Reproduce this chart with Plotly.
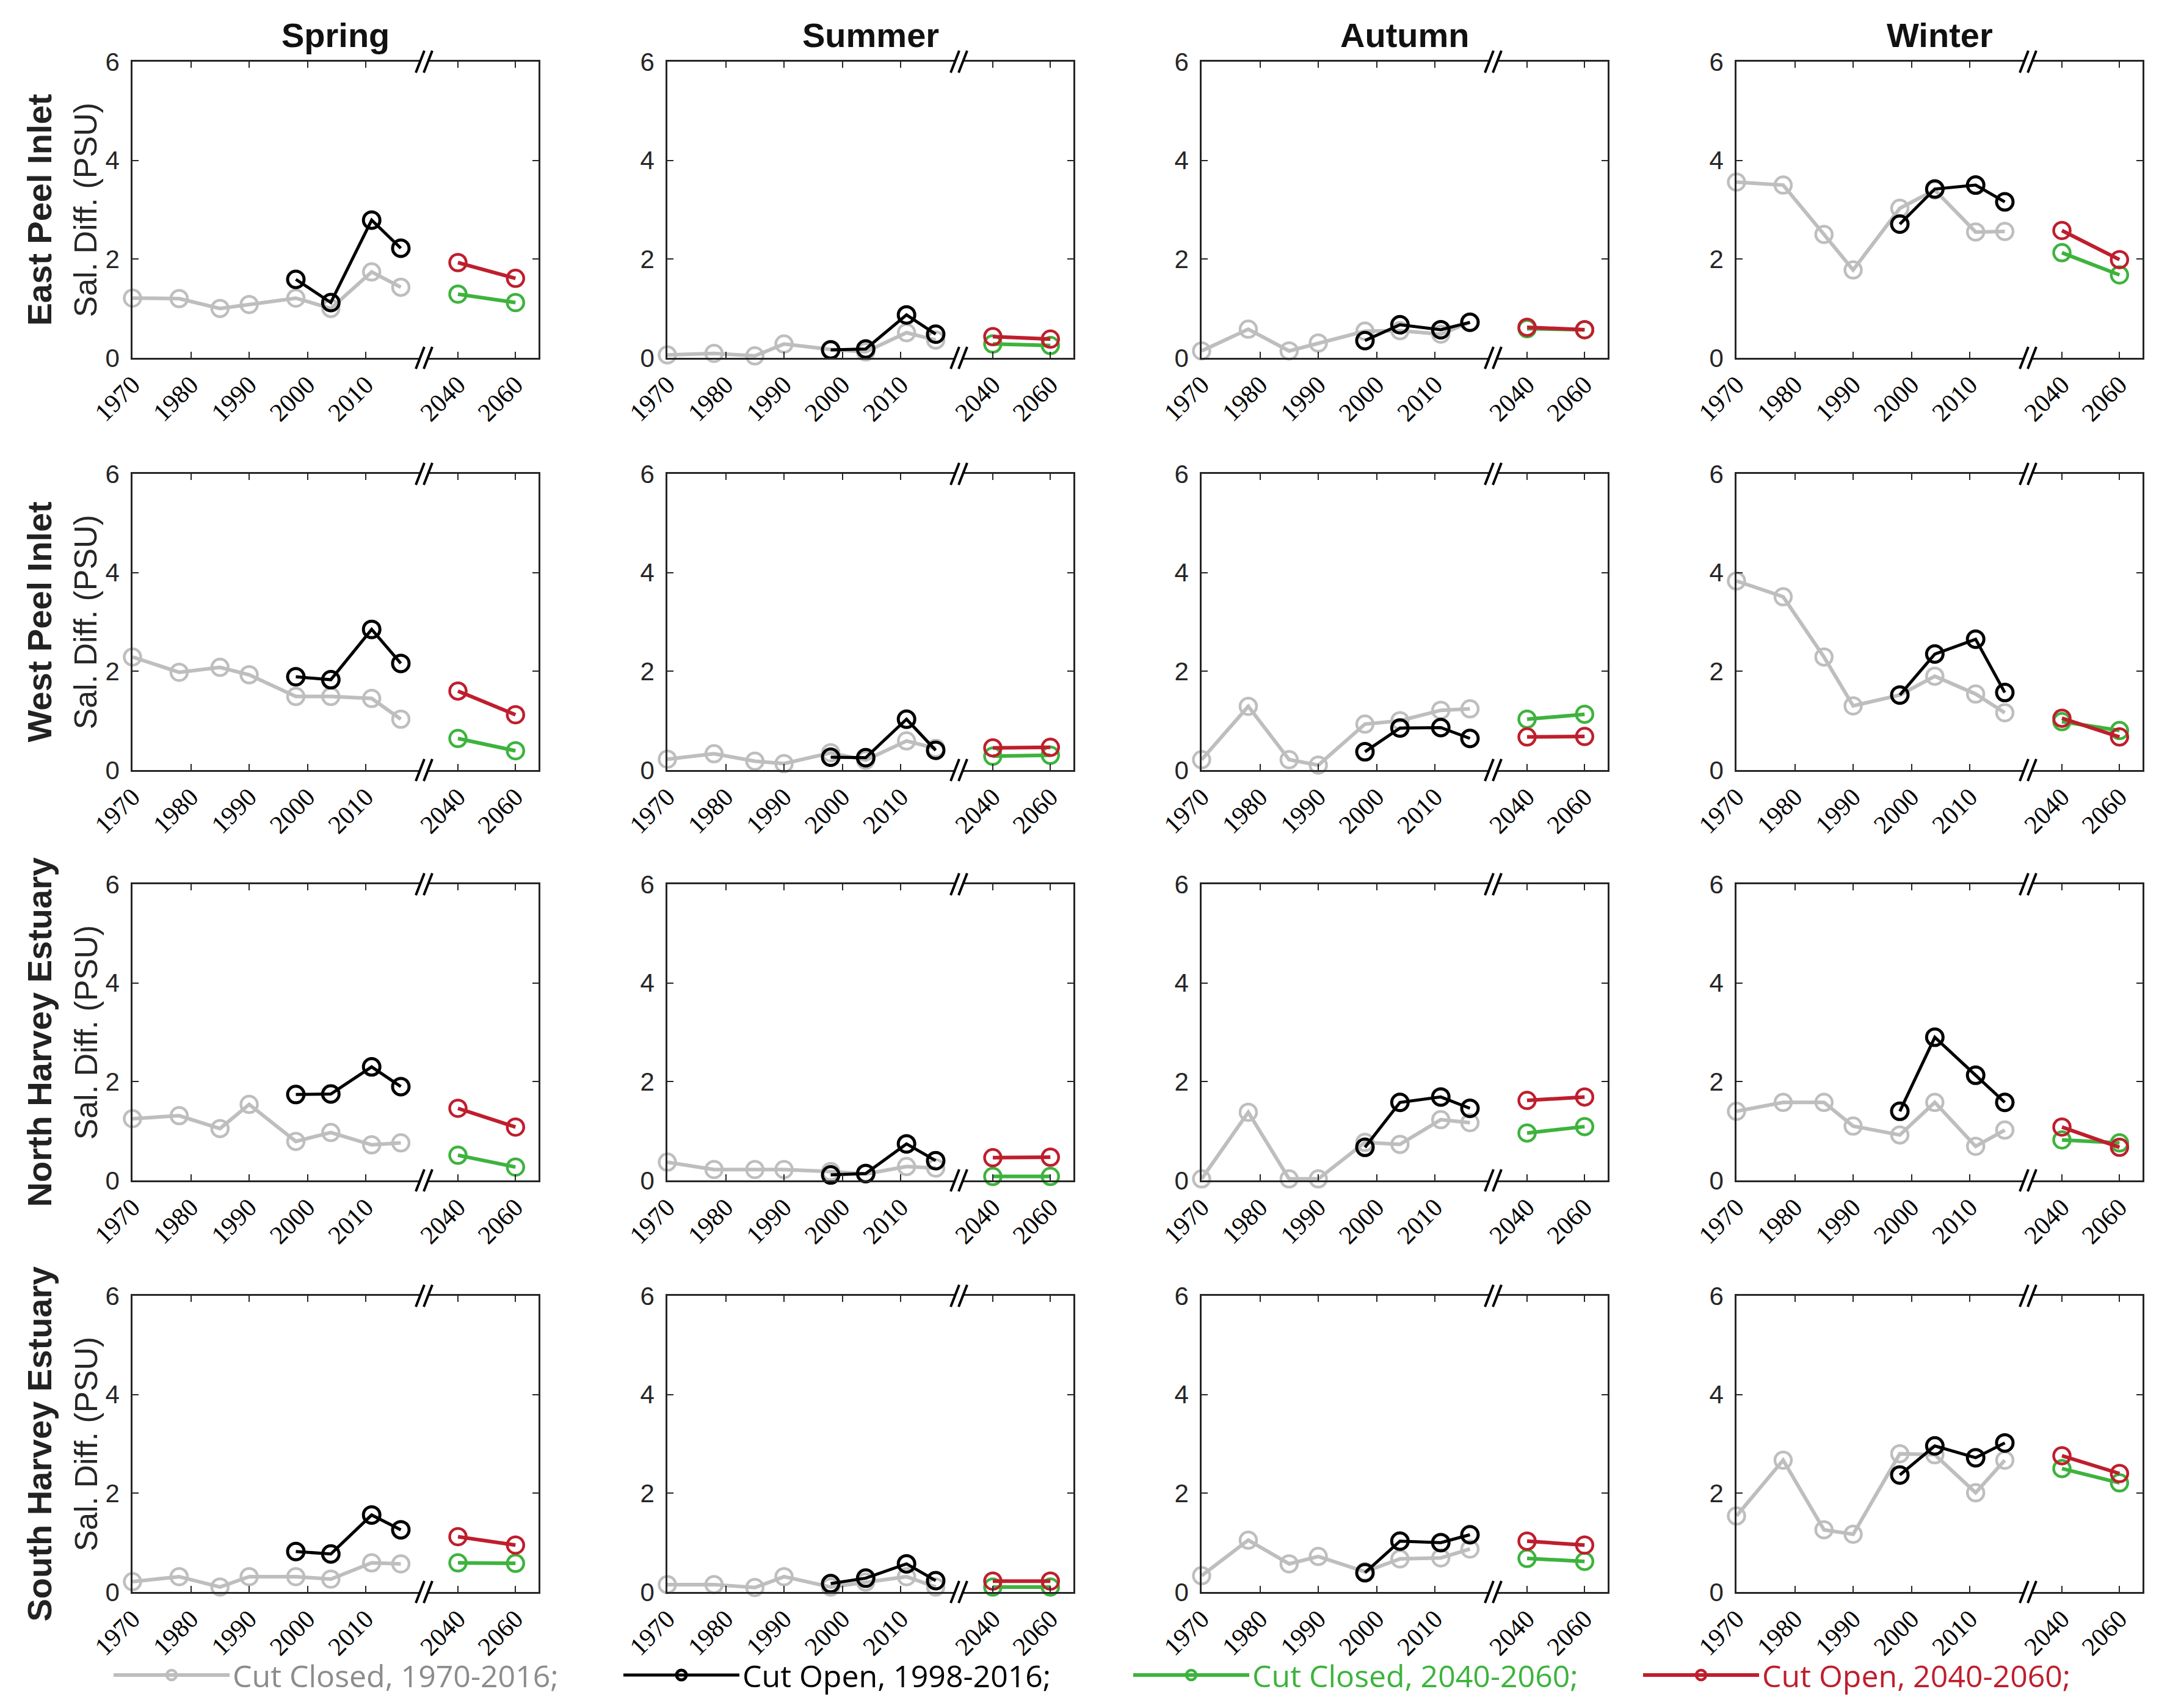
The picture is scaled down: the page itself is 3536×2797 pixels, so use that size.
import plotly.graph_objects as go

# ---------------- data ----------------
seasons = ["Spring", "Summer", "Autumn", "Winter"]
sites = ["East Peel Inlet", "West Peel Inlet", "North Harvey Estuary", "South Harvey Estuary"]
hist_years = [1970, 1978, 1985, 1990, 1998, 2004, 2011, 2016]
open_years = [1998, 2004, 2011, 2016]
future_years = [2040, 2060]
hist_ticks = [1970, 1980, 1990, 2000, 2010]
future_ticks = [2040, 2060]
y_ticks = [0, 2, 4, 6]

# each list: one row per season (Spring, Summer, Autumn, Winter)
epi_closed_hist = [
    [1.21, 1.20, 1.00, 1.08, 1.21, 1.00, 1.74, 1.43],
    [0.06, 0.09, 0.04, 0.28, 0.17, 0.12, 0.51, 0.36],
    [0.14, 0.58, 0.14, 0.30, 0.54, 0.55, 0.48, 0.72],
    [3.56, 3.50, 2.50, 1.78, 3.03, 3.40, 2.55, 2.56],
]
epi_open_hist = [
    [1.59, 1.12, 2.79, 2.22],
    [0.16, 0.18, 0.87, 0.48],
    [0.35, 0.67, 0.57, 0.72],
    [2.71, 3.42, 3.50, 3.16],
]
epi_closed_fut = [[1.29, 1.12], [0.28, 0.25], [0.59, 0.57], [2.13, 1.68]]
epi_open_fut = [[1.93, 1.61], [0.43, 0.38], [0.62, 0.57], [2.58, 1.99]]

wpi_closed_hist = [
    [2.29, 1.98, 2.08, 1.93, 1.49, 1.49, 1.45, 1.03],
    [0.22, 0.33, 0.18, 0.13, 0.35, 0.20, 0.59, 0.44],
    [0.21, 1.29, 0.21, 0.10, 0.93, 1.00, 1.21, 1.24],
    [3.83, 3.51, 2.29, 1.30, 1.52, 1.90, 1.54, 1.16],
]
wpi_open_hist = [
    [1.89, 1.83, 2.85, 2.16],
    [0.26, 0.25, 1.03, 0.40],
    [0.37, 0.85, 0.86, 0.64],
    [1.52, 2.35, 2.65, 1.57],
]
wpi_closed_fut = [[0.64, 0.39], [0.28, 0.30], [1.03, 1.13], [0.98, 0.80]]
wpi_open_fut = [[1.60, 1.12], [0.45, 0.46], [0.67, 0.68], [1.05, 0.67]]

nhe_closed_hist = [
    [1.25, 1.31, 1.05, 1.54, 0.79, 0.97, 0.72, 0.76],
    [0.37, 0.22, 0.22, 0.22, 0.18, 0.13, 0.28, 0.25],
    [0.03, 1.38, 0.03, 0.03, 0.77, 0.73, 1.23, 1.17],
    [1.40, 1.58, 1.58, 1.10, 0.92, 1.58, 0.69, 1.02],
]
nhe_open_hist = [
    [1.74, 1.75, 2.30, 1.90],
    [0.11, 0.14, 0.74, 0.40],
    [0.67, 1.58, 1.69, 1.46],
    [1.40, 2.90, 2.13, 1.58],
]
nhe_closed_fut = [[0.51, 0.27], [0.08, 0.08], [0.96, 1.09], [0.82, 0.76]]
nhe_open_fut = [[1.46, 1.08], [0.46, 0.47], [1.62, 1.69], [1.08, 0.67]]

she_closed_hist = [
    [0.21, 0.31, 0.10, 0.31, 0.31, 0.26, 0.59, 0.57],
    [0.15, 0.15, 0.09, 0.31, 0.10, 0.20, 0.31, 0.10],
    [0.33, 1.05, 0.57, 0.72, 0.41, 0.67, 0.69, 0.87],
    [1.54, 2.67, 1.26, 1.17, 2.80, 2.78, 2.01, 2.67],
]
she_open_hist = [
    [0.82, 0.77, 1.56, 1.26],
    [0.17, 0.28, 0.57, 0.23],
    [0.39, 1.03, 1.00, 1.16],
    [2.37, 2.96, 2.72, 3.02],
]
she_closed_fut = [[0.59, 0.58], [0.10, 0.10], [0.68, 0.62], [2.50, 2.21]]
she_open_fut = [[1.12, 0.95], [0.22, 0.22], [1.03, 0.95], [2.76, 2.40]]

legend_names = ["Cut Closed, 1970-2016;", "Cut Open, 1998-2016;",
                "Cut Closed, 2040-2060;", "Cut Open, 2040-2060;"]

# ---------------- styling / layout ----------------
W, H = 3536, 2797
col_left = [209, 1085, 1960, 2836]
row_top = [93, 768, 1440, 2114]
PW, PH = 665, 485
BRK_L, BRK_R = 471, 484
HIST_RANGE = [1970, 2019.3]
FUT_RANGE = [2029.6, 2068.0]

GRAY = "#BEBEBE"
BLACK = "#000000"
GREEN = "#3DB33D"
RED = "#BF1E2D"
AXC = "#262626"
text_colors = ["#8C8C8C", "#000000", GREEN, RED]

site_data = [
    (epi_closed_hist, epi_open_hist, epi_closed_fut, epi_open_fut),
    (wpi_closed_hist, wpi_open_hist, wpi_closed_fut, wpi_open_fut),
    (nhe_closed_hist, nhe_open_hist, nhe_closed_fut, nhe_open_fut),
    (she_closed_hist, she_open_hist, she_closed_fut, she_open_fut),
]

fig = go.Figure()
layout = {}
shapes = []
annotations = []


def ax(i):
    return "" if i == 1 else str(i)


def px2x(p):
    return p / W


def px2y(p):
    return 1 - p / H


tickfont_x = dict(family="Liberation Serif", size=42, color="#000000")
tickfont_y = dict(family="Liberation Sans", size=42, color=AXC)
MS = 27

n = 0
for r, site in enumerate(sites):
    ch, oh, cf, of = site_data[r]
    for c, season in enumerate(seasons):
        iL, iR = 2 * n + 1, 2 * n + 2
        xl, yt = col_left[c], row_top[r]
        ydom = [px2y(yt + PH), px2y(yt)]
        common_x = dict(showline=True, linecolor=AXC, linewidth=2.5, mirror="allticks",
                        ticks="inside", ticklen=10, tickwidth=2, tickcolor=AXC,
                        showgrid=False, zeroline=False, tickangle=-45,
                        tickfont=tickfont_x, fixedrange=True, automargin=False)
        layout["xaxis" + ax(iL)] = dict(common_x, domain=[px2x(xl), px2x(xl + BRK_L)],
                                        anchor="y" + ax(iL), range=HIST_RANGE,
                                        tickvals=hist_ticks, ticktext=[str(v) for v in hist_ticks])
        layout["xaxis" + ax(iR)] = dict(common_x, domain=[px2x(xl + BRK_R), px2x(xl + PW)],
                                        anchor="y" + ax(iR), range=FUT_RANGE,
                                        tickvals=future_ticks, ticktext=[str(v) for v in future_ticks])
        common_y = dict(showline=True, linecolor=AXC, linewidth=2.5, mirror=False,
                        ticks="inside", ticklen=10, tickwidth=2, tickcolor=AXC,
                        showgrid=False, zeroline=False, range=[0, 6], tickvals=y_ticks,
                        domain=ydom, fixedrange=True, automargin=False)
        layout["yaxis" + ax(iL)] = dict(common_y, anchor="x" + ax(iL), side="left",
                                        tickfont=tickfont_y, ticklabelstandoff=10)
        layout["yaxis" + ax(iR)] = dict(common_y, anchor="x" + ax(iR), side="right",
                                        showticklabels=False)

        first = (n == 0)
        fig.add_trace(go.Scatter(
            x=hist_years, y=ch[c], xaxis="x" + ax(iL), yaxis="y" + ax(iL),
            mode="lines+markers", line=dict(color=GRAY, width=6),
            marker=dict(symbol="circle-open", size=MS, color=GRAY, line=dict(width=4.5, color=GRAY)),
            cliponaxis=False, showlegend=first, legendgroup="g0",
            name="<span style='color:%s'>%s</span>" % (text_colors[0], legend_names[0])))
        fig.add_trace(go.Scatter(
            x=open_years, y=oh[c], xaxis="x" + ax(iL), yaxis="y" + ax(iL),
            mode="lines+markers", line=dict(color=BLACK, width=5),
            marker=dict(symbol="circle-open", size=MS, color=BLACK, line=dict(width=5, color=BLACK)),
            cliponaxis=False, showlegend=first, legendgroup="g1",
            name="<span style='color:%s'>%s</span>" % (text_colors[1], legend_names[1])))
        fig.add_trace(go.Scatter(
            x=future_years, y=cf[c], xaxis="x" + ax(iR), yaxis="y" + ax(iR),
            mode="lines+markers", line=dict(color=GREEN, width=6),
            marker=dict(symbol="circle-open", size=MS, color=GREEN, line=dict(width=4.5, color=GREEN)),
            cliponaxis=False, showlegend=first, legendgroup="g2",
            name="<span style='color:%s'>%s</span>" % (text_colors[2], legend_names[2])))
        fig.add_trace(go.Scatter(
            x=future_years, y=of[c], xaxis="x" + ax(iR), yaxis="y" + ax(iR),
            mode="lines+markers", line=dict(color=RED, width=6),
            marker=dict(symbol="circle-open", size=MS, color=RED, line=dict(width=4.5, color=RED)),
            cliponaxis=False, showlegend=first, legendgroup="g3",
            name="<span style='color:%s'>%s</span>" % (text_colors[3], legend_names[3])))

        # axis-break marks "//" on top and bottom edges
        for yy in (yt, yt + PH):
            for xb in (xl + BRK_L, xl + BRK_R):
                shapes.append(dict(type="line", xref="paper", yref="paper",
                                   x0=px2x(xb - 7), y0=px2y(yy + 18),
                                   x1=px2x(xb + 7), y1=px2y(yy - 18),
                                   line=dict(color=BLACK, width=4), layer="above"))

        if r == 0:
            annotations.append(dict(text="<b>%s</b>" % season, xref="paper", yref="paper",
                                    x=px2x(xl + PW / 2), y=px2y(50), showarrow=False,
                                    xanchor="center", yanchor="middle",
                                    font=dict(family="Liberation Sans", size=56, color="#111111")))
        n += 1

    yc = row_top[r] + PH / 2
    annotations.append(dict(text="<b>%s</b>" % site, xref="paper", yref="paper",
                            x=px2x(56), y=px2y(yc), showarrow=False, textangle=-90,
                            xanchor="center", yanchor="middle",
                            font=dict(family="Liberation Sans", size=56, color="#222222")))
    annotations.append(dict(text="Sal. Diff. (PSU)", xref="paper", yref="paper",
                            x=px2x(132), y=px2y(yc), showarrow=False, textangle=-90,
                            xanchor="center", yanchor="middle",
                            font=dict(family="Liberation Sans", size=52, color=AXC)))

fig.update_layout(**layout)
fig.update_layout(
    width=W, height=H, margin=dict(l=0, r=0, t=0, b=0, autoexpand=False),
    paper_bgcolor="white", plot_bgcolor="white",
    shapes=shapes, annotations=annotations,
    showlegend=True,
    legend=dict(orientation="h", x=px2x(173), y=px2y(2735), xanchor="left", yanchor="middle",
                entrywidth=630, entrywidthmode="pixels", itemwidth=190,
                font=dict(family="Open Sans", size=50), bgcolor="rgba(0,0,0,0)"),
)

fig.write_html("out.html")
